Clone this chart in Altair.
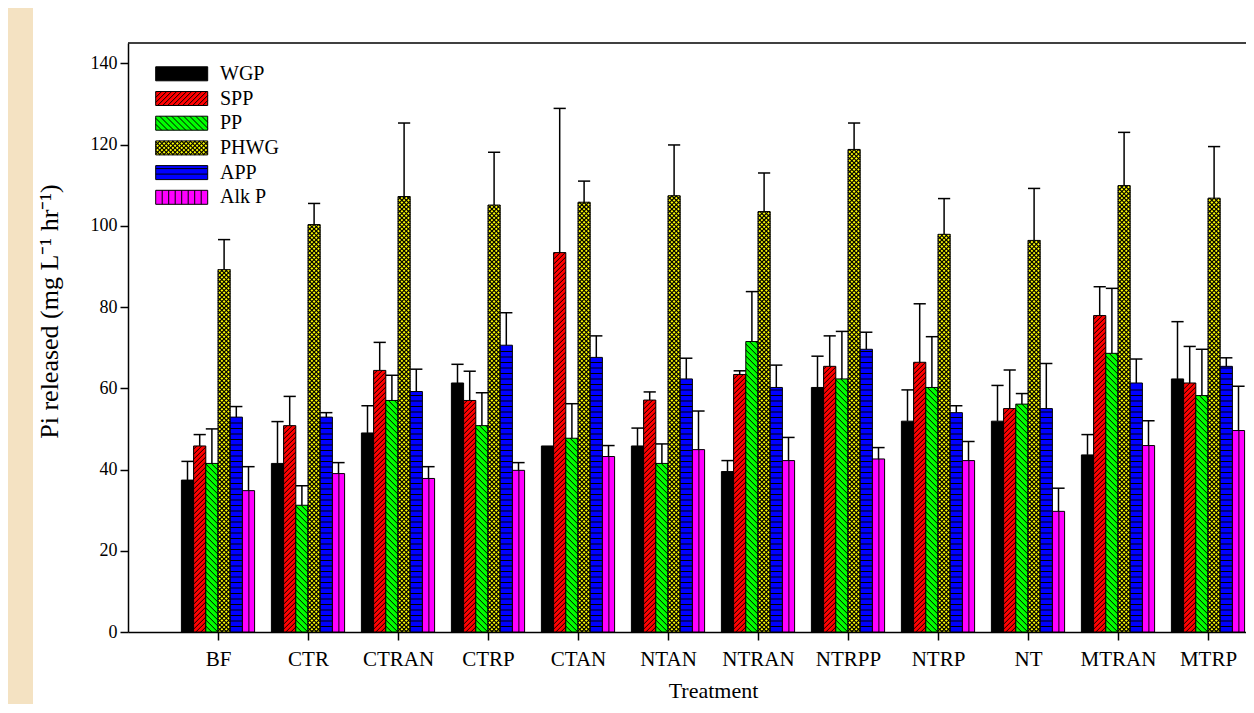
import altair as alt
import pandas as pd

# ---------------- data ----------------
treatments = ["BF", "CTR", "CTRAN", "CTRP", "CTAN", "NTAN", "NTRAN",
              "NTRPP", "NTRP", "NT", "MTRAN", "MTRP"]
series_names = ["WGP", "SPP", "PP", "PHWG", "APP", "Alk P"]
series_colors = ["#000000", "#FF0000", "#00FF00", "#FFFF00", "#0000FF", "#FF00FF"]

wgp = [37.4, 41.5, 49.0, 61.3, 45.8, 45.8, 39.5, 60.2, 51.9, 51.9, 43.6, 62.3]
wgp_err = [4.6, 10.3, 6.7, 4.6, 0.0, 4.4, 2.7, 7.7, 7.7, 8.8, 5.0, 14.1]
spp = [45.8, 50.8, 64.4, 57.0, 93.4, 57.1, 63.4, 65.4, 66.4, 55.0, 77.9, 61.3]
spp_err = [2.8, 7.2, 6.9, 7.2, 35.5, 2.0, 0.9, 7.5, 14.4, 9.5, 7.1, 9.0]
pp = [41.5, 31.2, 57.0, 50.8, 47.7, 41.5, 71.5, 62.3, 60.2, 56.1, 68.6, 58.2]
pp_err = [8.5, 4.8, 6.2, 8.1, 8.5, 4.8, 12.3, 11.7, 12.5, 2.6, 16.0, 11.4]
phwg = [89.2, 100.3, 107.2, 105.1, 105.8, 107.4, 103.5, 118.8, 97.9, 96.4, 109.9, 106.8]
phwg_err = [7.4, 5.2, 18.1, 13.0, 5.2, 12.5, 9.5, 6.5, 8.8, 12.8, 13.1, 12.7]
app = [52.9, 52.9, 59.2, 70.6, 67.6, 62.3, 60.2, 69.6, 54.0, 55.0, 61.3, 65.4]
app_err = [2.6, 1.1, 5.5, 8.0, 5.3, 5.1, 5.5, 4.2, 1.7, 11.1, 5.9, 2.1]
alkp = [34.8, 39.0, 37.8, 39.8, 43.2, 44.9, 42.2, 42.6, 42.2, 29.7, 45.9, 49.6]
alkp_err = [5.9, 2.7, 2.9, 1.9, 2.7, 9.5, 5.7, 2.8, 4.7, 5.7, 6.1, 10.9]

values = [wgp, spp, pp, phwg, app, alkp]
errors = [wgp_err, spp_err, pp_err, phwg_err, app_err, alkp_err]

y_ticks = [0, 20, 40, 60, 80, 100, 120, 140]

# ---------------- layout constants ----------------
PLOT_W = 1118
PLOT_H = 589
X_PX = 90.0                 # pixels per category step
X_MAX = PLOT_W / X_PX
Y_MAX = 145
Y_PX = PLOT_H / Y_MAX
BAR_W = 12.2 / X_PX
FONT = "Liberation Serif"

rows = []
for si, name in enumerate(series_names):
    for ti, t in enumerate(treatments):
        rows.append({"treatment": t, "series": name, "si": si, "ti": ti + 1,
                     "value": values[si][ti], "err": errors[si][ti]})
bars_df = pd.DataFrame(rows)
legend_df = pd.DataFrame({"series": series_names, "si": list(range(len(series_names)))})

xs = alt.Scale(domain=[0, X_MAX], nice=False, zero=False)
ys = alt.Scale(domain=[0, Y_MAX], nice=False, zero=True)
col = alt.Scale(domain=series_names, range=series_colors)

label_arr = "[" + ",".join("'" + t + "'" for t in treatments) + "]"
x_axis = alt.Axis(
    values=list(range(1, len(treatments) + 1)),
    labelExpr=label_arr + "[datum.value - 1]",
    title="Treatment", grid=False, tickSize=8, tickWidth=1.5, tickColor="black",
    domainColor="black", domainWidth=1.5, labelFont=FONT, labelFontSize=21,
    labelColor="black", labelPadding=8, labelFlush=False, labelOverlap=False,
    titleFont=FONT, titleFontSize=22, titleFontWeight=400, titleColor="black",
    titleX=585, titleY=65, titleBaseline="alphabetic", titleAlign="center",
)
y_axis = alt.Axis(
    values=y_ticks, title="Pi released (mg L\u207b\u00b9 hr\u207b\u00b9)", grid=False,
    tickSize=8, tickWidth=1.5, tickColor="black", domainColor="black", domainWidth=1.5,
    labelFont=FONT, labelFontSize=18, labelColor="black", labelPadding=3,
    titleFont=FONT, titleFontSize=26, titleFontWeight=400, titleColor="black",
    titleX=-79, titleY=268, titleAngle=270, titleBaseline="middle", titleAlign="center",
)

# bars: positions derived from category index & series index
bars_base = (
    alt.Chart(bars_df)
    .transform_calculate(xl=f"datum.ti + (datum.si - 3) * {BAR_W}")
    .transform_calculate(xr=f"datum.xl + {BAR_W}")
    .transform_calculate(yb="0")
    .transform_calculate(yt="datum.value")
    .transform_calculate(xc=f"datum.xl + {BAR_W / 2}")
    .transform_calculate(ytop="datum.value + datum.err")
)

# legend swatches (inside plot, upper-left)
leg_base = (
    alt.Chart(legend_df)
    .transform_calculate(xl=str(27.7 / X_PX))
    .transform_calculate(xr=str(79.7 / X_PX))
    .transform_calculate(yc=f"{Y_MAX} - (30.8 + 24.7 * datum.si) / {Y_PX}")
    .transform_calculate(yb=f"datum.yc - {7 / Y_PX}")
    .transform_calculate(yt=f"datum.yc + {7 / Y_PX}")
    .transform_calculate(xt=str(92 / X_PX))
)


def rect_layer(base, axes=False):
    return base.mark_rect(stroke="black", strokeWidth=1).encode(
        x=alt.X("xl:Q", scale=xs, axis=x_axis if axes else None),
        x2="xr:Q",
        y=alt.Y("yb:Q", scale=ys, axis=y_axis if axes else None),
        y2="yt:Q",
        fill=alt.Fill("series:N", scale=col, legend=None),
    )


def diag_layer(base, series, spacing_px, direction, width=1.0):
    s = spacing_px / Y_PX
    c = (
        base.transform_filter(f"datum.series == '{series}'")
        .transform_calculate(d=f"(datum.xr - datum.xl) * {X_PX} / {Y_PX}")
        .transform_calculate(seq=f"sequence(datum.yb - datum.d, datum.yt, {s})")
        .transform_flatten(["seq"], as_=["h"])
        .transform_calculate(y1="max(datum.h, datum.yb)")
        .transform_calculate(y2="min(datum.h + datum.d, datum.yt)")
        .transform_filter("datum.y2 > datum.y1")
    )
    if direction > 0:
        c = c.transform_calculate(
            xa="datum.xl + (datum.y1 - datum.h) / datum.d * (datum.xr - datum.xl)"
        ).transform_calculate(
            xb="datum.xl + (datum.y2 - datum.h) / datum.d * (datum.xr - datum.xl)"
        )
    else:
        c = c.transform_calculate(
            xa="datum.xr - (datum.y1 - datum.h) / datum.d * (datum.xr - datum.xl)"
        ).transform_calculate(
            xb="datum.xr - (datum.y2 - datum.h) / datum.d * (datum.xr - datum.xl)"
        )
    return c.mark_rule(color="black", strokeWidth=width).encode(
        x=alt.X("xa:Q", scale=xs, axis=None), x2="xb:Q",
        y=alt.Y("y1:Q", scale=ys, axis=None), y2="y2:Q",
    )


def horiz_layer(base, series, spacing_px, width=1.0):
    s = spacing_px / Y_PX
    c = (
        base.transform_filter(f"datum.series == '{series}'")
        .transform_calculate(seq=f"sequence(datum.yb + {s}, datum.yt - {s * 0.3}, {s})")
        .transform_flatten(["seq"], as_=["h"])
    )
    return c.mark_rule(color="black", strokeWidth=width).encode(
        x=alt.X("xl:Q", scale=xs, axis=None), x2="xr:Q",
        y=alt.Y("h:Q", scale=ys, axis=None),
    )


def vert_layer(base, series, spacing_px, width=1.0):
    s = spacing_px / X_PX
    c = (
        base.transform_filter(f"datum.series == '{series}'")
        .transform_calculate(seq=f"sequence(datum.xl + {s}, datum.xr - {s * 0.3}, {s})")
        .transform_flatten(["seq"], as_=["v"])
    )
    return c.mark_rule(color="black", strokeWidth=width).encode(
        x=alt.X("v:Q", scale=xs, axis=None),
        y=alt.Y("yb:Q", scale=ys, axis=None), y2="yt:Q",
    )


def patterns(base):
    return [
        diag_layer(base, "SPP", 5.0, +1),
        diag_layer(base, "PP", 6.0, -1),
        diag_layer(base, "PHWG", 4.4, +1, 1.2),
        diag_layer(base, "PHWG", 4.4, -1, 1.2),
        horiz_layer(base, "APP", 5.5),
        vert_layer(base, "Alk P", 6.5),
    ]


err_base = bars_base.transform_filter("datum.err > 0")
err_rule = err_base.mark_rule(color="black", strokeWidth=1.5).encode(
    x=alt.X("xc:Q", scale=xs, axis=None),
    y=alt.Y("yt:Q", scale=ys, axis=None), y2="ytop:Q",
)
err_cap = err_base.mark_rule(color="black", strokeWidth=1.5).encode(
    x=alt.X("xl:Q", scale=xs, axis=None), x2="xr:Q",
    y=alt.Y("ytop:Q", scale=ys, axis=None),
)

legend_text = leg_base.mark_text(
    align="left", baseline="middle", font=FONT, fontSize=20, color="black"
).encode(
    x=alt.X("xt:Q", scale=xs, axis=None),
    y=alt.Y("yc:Q", scale=ys, axis=None),
    text="series:N",
)

frame_top = alt.Chart(pd.DataFrame({"top": [Y_MAX]})).mark_rule(
    color="black", strokeWidth=1.5
).encode(y=alt.Y("top:Q", scale=ys, axis=None))

strip = alt.Chart(pd.DataFrame({"k": [0]})).mark_rect(color="#F4E2C2").encode(
    x=alt.value(-120), x2=alt.value(-95), y=alt.value(-35), y2=alt.value(PLOT_H + 72)
)

layers = [rect_layer(bars_base, axes=True), strip] + patterns(bars_base) + [
    err_rule, err_cap, frame_top,
    rect_layer(leg_base),
] + patterns(leg_base) + [legend_text]

chart = (
    alt.layer(*layers)
    .resolve_axis(x="independent", y="independent")
    .properties(
        width=PLOT_W, height=PLOT_H,
        autosize=alt.AutoSizeParams(type="none"),
        padding={"left": 120, "top": 35, "right": 0, "bottom": 72},
        background="white",
    )
    .configure_view(stroke=None)
)

chart.save("out.html", embed_options={"renderer": "svg", "actions": False})
